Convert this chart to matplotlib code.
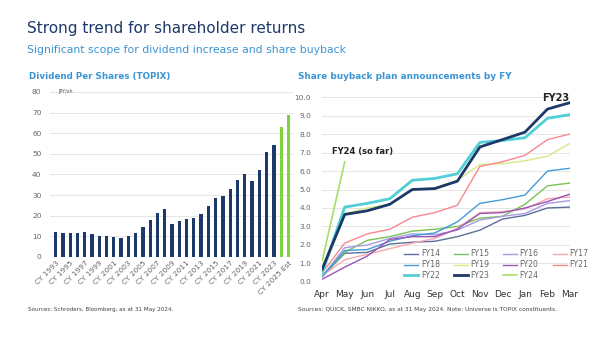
import matplotlib.pyplot as plt
from matplotlib.ticker import FormatStrFormatter

# dividend per share (TOPIX), JPY/sh
years = [f"CY {y}" for y in range(1993, 2025)] + ["CY 2025 Est"]
dps = [12, 11.5, 11.5, 11.5, 12, 11, 10, 10, 9.8, 9, 10, 11.5, 14.5, 18, 21.5, 23,
       16, 17.5, 18.5, 19, 21, 24.5, 28.5, 29.5, 33, 37.5, 40, 37, 42, 51, 54.5,
       63, 69]
n_est = 2  # last two bars are estimates (green)

# share buyback plan announcements by FY
months = ["Apr", "May", "Jun", "Jul", "Aug", "Sep", "Oct", "Nov", "Dec", "Jan", "Feb", "Mar"]
fy14 = [0.3, 1.55, 1.6, 2.05, 2.15, 2.2, 2.45, 2.8, 3.4, 3.6, 4.0, 4.05]
fy15 = [0.3, 1.6, 2.25, 2.45, 2.75, 2.85, 3.0, 3.45, 3.55, 4.2, 5.2, 5.35]
fy16 = [0.3, 1.85, 2.0, 2.35, 2.6, 2.55, 2.8, 3.35, 3.55, 3.7, 4.25, 4.4]
fy17 = [0.35, 1.2, 1.5, 1.8, 2.1, 2.35, 2.9, 3.75, 3.8, 3.95, 4.5, 4.6]
fy18 = [0.3, 1.7, 1.75, 2.2, 2.5, 2.65, 3.25, 4.25, 4.45, 4.7, 6.0, 6.15]
fy19 = [0.4, 3.7, 4.0, 4.2, 5.0, 5.1, 5.5, 6.35, 6.4, 6.55, 6.8, 7.5]
fy20 = [0.15, 0.8, 1.4, 2.3, 2.45, 2.45, 2.85, 3.7, 3.75, 4.0, 4.35, 4.75]
fy21 = [0.5, 2.1, 2.6, 2.85, 3.5, 3.75, 4.15, 6.25, 6.5, 6.85, 7.7, 8.0]
fy22 = [0.5, 4.05, 4.25, 4.5, 5.5, 5.6, 5.85, 7.55, 7.65, 7.8, 8.85, 9.05]
fy23 = [0.7, 3.65, 3.85, 4.2, 5.0, 5.05, 5.45, 7.3, 7.7, 8.1, 9.35, 9.7]
fy24 = [1.15, 6.5]

series = [
    ("FY14", fy14, "#5b6f98", 1.0),
    ("FY15", fy15, "#79c257", 1.0),
    ("FY16", fy16, "#a99be3", 1.0),
    ("FY17", fy17, "#f6a8ad", 1.0),
    ("FY18", fy18, "#449bd6", 1.0),
    ("FY19", fy19, "#d3ea87", 1.0),
    ("FY20", fy20, "#9a55b8", 1.0),
    ("FY21", fy21, "#f7888f", 1.0),
    ("FY22", fy22, "#4fcfd6", 2.0),
    ("FY23", fy23, "#1c3969", 2.0),
    ("FY24", fy24, "#a8dd6a", 1.2),
]

navy = "#1c3969"
blue = "#3a95d4"
gray = "#666666"

fig = plt.figure(figsize=(6, 3.43), dpi=100)
fig.text(0.045, 0.918, "Strong trend for shareholder returns", fontsize=11, color=navy,
         va="center")
fig.text(0.045, 0.855, "Significant scope for dividend increase and share buyback",
         fontsize=7.8, color=blue, va="center")

# left: bars
ax1 = fig.add_axes([0.083, 0.251, 0.405, 0.481])
cols = [navy] * (len(dps) - n_est) + ["#7ed23e"] * n_est
ax1.bar(range(len(dps)), dps, width=0.45, color=cols)
ax1.set_ylim(0, 80)
ax1.set_yticks(range(0, 81, 10))
ax1.set_xlim(-0.8, len(dps) - 0.4)
ax1.set_xticks(range(0, len(dps), 2))
ax1.set_xticklabels(years[::2], rotation=45, ha="right", rotation_mode="anchor",
                    fontsize=5.3, color=gray)
ax1.tick_params(axis="y", labelsize=5.3, labelcolor=gray, length=0, pad=6)
ax1.tick_params(axis="x", length=0, pad=2)
ax1.grid(axis="y", color="#e6e6e6", linewidth=0.7)
ax1.set_axisbelow(True)
for s in ax1.spines.values():
    s.set_visible(False)
ax1.text(0.3, 80.3, "JPY/sh", fontsize=3.5, color="#555555", va="center")
fig.text(0.048, 0.776, "Dividend Per Shares (TOPIX)", fontsize=6.3, fontweight="bold",
         color=blue, va="center")
fig.text(0.047, 0.093, "Sources: Schroders, Bloomberg, as at 31 May 2024.",
         fontsize=4.1, color="#444444")

# right: lines
ax2 = fig.add_axes([0.537, 0.178, 0.413, 0.539])
handles = []
for name, vals, c, lw in series:
    h, = ax2.plot(range(len(vals)), vals, color=c, linewidth=lw, label=name)
    handles.append(h)
ax2.set_ylim(0, 10)
ax2.set_yticks([i for i in range(0, 11)])
ax2.yaxis.set_major_formatter(FormatStrFormatter("%.1f"))
ax2.set_xlim(0, 11)
ax2.set_xticks(range(12))
ax2.set_xticklabels(months)
ax2.tick_params(axis="y", labelsize=5.3, labelcolor=gray, length=0, pad=8)
ax2.tick_params(axis="x", labelsize=6.5, labelcolor="#333333", length=0, pad=6)
ax2.grid(axis="y", color="#e6e6e6", linewidth=0.7)
ax2.set_axisbelow(True)
for s in ax2.spines.values():
    s.set_visible(False)
ax2.text(0.45, 7.05, "FY24 (so far)", fontsize=6, fontweight="bold", color="#222222",
         va="center")
ax2.text(10.35, 9.95, "FY23", fontsize=7, fontweight="bold", color="#222222",
         ha="center", va="center")

# legend filled row by row: reorder for column-major layout
ncol = 4
order = []
for c in range(ncol):
    order += [handles[i] for i in range(c, len(handles), ncol)]
leg = ax2.legend(order, [h.get_label() for h in order], ncol=ncol, loc="lower left",
                 bbox_to_anchor=(0.31, -0.02), frameon=False, fontsize=5.6,
                 handlelength=1.8, columnspacing=1.8, labelspacing=0.25,
                 handletextpad=0.3, borderpad=0.2)
for t in leg.get_texts():
    t.set_color(gray)

fig.text(0.497, 0.093, "Sources: QUICK, SMBC NIKKO, as at 31 May 2024. Note: Universe is TOPIX constituents.",
         fontsize=4.2, color="#444444")
fig.text(0.497, 0.776, "Share buyback plan announcements by FY", fontsize=6.4,
         fontweight="bold", color=blue, va="center")

fig.savefig("out.png", dpi=100)
